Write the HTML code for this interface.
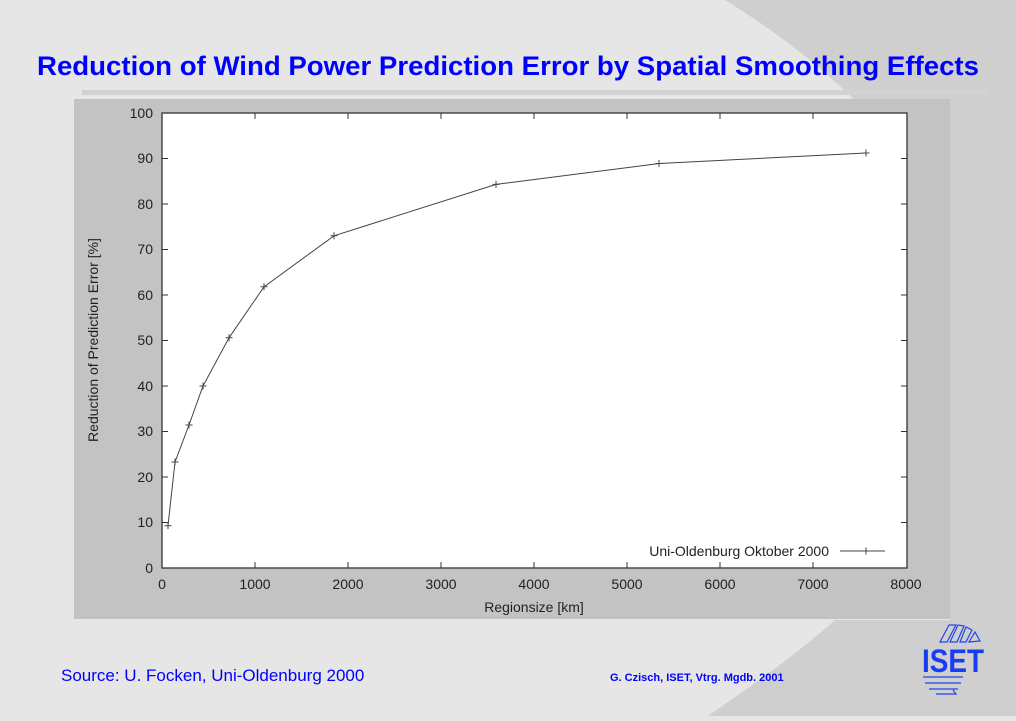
<!DOCTYPE html>
<html><head><meta charset="utf-8"><style>
html,body{margin:0;padding:0;}
body{width:1016px;height:716px;overflow:hidden;background:#e6e6e6;font-family:"Liberation Sans",sans-serif;}
</style></head><body>
<svg width="1016" height="716" viewBox="0 0 1016 716" xmlns="http://www.w3.org/2000/svg" font-family="Liberation Sans, sans-serif">
<rect width="1016" height="716" fill="#e6e6e6"/>
<path d="M725,0 C790,40 835,80 865,110 L1016,110 L1016,0 Z" fill="#cfcfcf"/>
<rect x="950" y="100" width="66" height="616" fill="#cfcfcf"/>
<path d="M835,620 C790,660 745,690 708,716 L1016,716 L1016,620 Z" fill="#cfcfcf"/>
<text x="508" y="75" text-anchor="middle" font-size="27" font-weight="bold" fill="#0000ff" textLength="942" lengthAdjust="spacingAndGlyphs">Reduction of Wind Power Prediction Error by Spatial Smoothing Effects</text>
<rect x="82" y="90" width="905" height="5" fill="#d2d2d2"/>
<rect x="74" y="99" width="876" height="520" fill="#c3c3c3"/>
<rect x="162" y="113" width="745" height="455" fill="#fff" stroke="#333" stroke-width="1.3"/>
<g stroke="#333" stroke-width="1">
<line x1="255" y1="568" x2="255" y2="562"/><line x1="255" y1="113" x2="255" y2="119"/>
<line x1="348" y1="568" x2="348" y2="562"/><line x1="348" y1="113" x2="348" y2="119"/>
<line x1="441" y1="568" x2="441" y2="562"/><line x1="441" y1="113" x2="441" y2="119"/>
<line x1="534" y1="568" x2="534" y2="562"/><line x1="534" y1="113" x2="534" y2="119"/>
<line x1="627" y1="568" x2="627" y2="562"/><line x1="627" y1="113" x2="627" y2="119"/>
<line x1="720" y1="568" x2="720" y2="562"/><line x1="720" y1="113" x2="720" y2="119"/>
<line x1="813" y1="568" x2="813" y2="562"/><line x1="813" y1="113" x2="813" y2="119"/>
<line x1="162" y1="522.5" x2="168" y2="522.5"/><line x1="907" y1="522.5" x2="901" y2="522.5"/>
<line x1="162" y1="477" x2="168" y2="477"/><line x1="907" y1="477" x2="901" y2="477"/>
<line x1="162" y1="431.5" x2="168" y2="431.5"/><line x1="907" y1="431.5" x2="901" y2="431.5"/>
<line x1="162" y1="386" x2="168" y2="386"/><line x1="907" y1="386" x2="901" y2="386"/>
<line x1="162" y1="340.5" x2="168" y2="340.5"/><line x1="907" y1="340.5" x2="901" y2="340.5"/>
<line x1="162" y1="295" x2="168" y2="295"/><line x1="907" y1="295" x2="901" y2="295"/>
<line x1="162" y1="249.5" x2="168" y2="249.5"/><line x1="907" y1="249.5" x2="901" y2="249.5"/>
<line x1="162" y1="204" x2="168" y2="204"/><line x1="907" y1="204" x2="901" y2="204"/>
<line x1="162" y1="158.5" x2="168" y2="158.5"/><line x1="907" y1="158.5" x2="901" y2="158.5"/>
</g>
<g font-size="14" fill="#222" text-anchor="end">
<text x="153" y="573">0</text><text x="153" y="527">10</text><text x="153" y="482">20</text><text x="153" y="436">30</text><text x="153" y="391">40</text><text x="153" y="345">50</text><text x="153" y="300">60</text><text x="153" y="254">70</text><text x="153" y="209">80</text><text x="153" y="163">90</text><text x="153" y="118">100</text>
</g>
<g font-size="14" fill="#222" text-anchor="middle">
<text x="162" y="589">0</text><text x="255" y="589">1000</text><text x="348" y="589">2000</text><text x="441" y="589">3000</text><text x="534" y="589">4000</text><text x="627" y="589">5000</text><text x="720" y="589">6000</text><text x="813" y="589">7000</text><text x="906" y="589">8000</text>
<text x="534" y="612">Regionsize [km]</text>
<text transform="translate(98,340) rotate(-90)">Reduction of Prediction Error [%]</text>
</g>
<text x="829" y="556" font-size="14" fill="#222" text-anchor="end">Uni-Oldenburg Oktober 2000</text>
<g stroke="#444" stroke-width="1" fill="none">
<line x1="840" y1="551" x2="885" y2="551"/>
<polyline points="168,525.7 175,462 189,425 203,386 229,337.8 264,286.8 334,235.8 496,184.4 659,163.5 866,153"/>
<path d="M862.5,551h7M866,547.5v7 M164.5,525.7h7M168,522.2v7 M171.5,462h7M175,458.5v7 M185.5,425h7M189,421.5v7 M199.5,386h7M203,382.5v7 M225.5,337.8h7M229,334.3v7 M260.5,286.8h7M264,283.3v7 M330.5,235.8h7M334,232.3v7 M492.5,184.4h7M496,180.9v7 M655.5,163.5h7M659,160v7 M862.5,153h7M866,149.5v7"/>
</g>
<text x="61" y="681" font-size="17" fill="#0000ff">Source: U. Focken, Uni-Oldenburg 2000</text>
<text x="610" y="681" font-size="11" font-weight="bold" fill="#0000ff">G. Czisch, ISET, Vtrg. Mgdb. 2001</text>
<g stroke="#2244ee" stroke-width="1.2" fill="none">
<path d="M940,642 L949,625 L956,625 L947,642 Z M950,642 L958,625 L964,626 L957,642 Z M960,642 L966,627 L972,630 L966,642 Z M969,642 L975,632 L980,641 Z"/>
<path d="M923,677 L963,677 M925,683 L961,683 M929,689 L958,689 M936,694 L956,694 L953,690"/>
</g>
<text x="953" y="672" font-size="32" font-weight="bold" fill="#1a3cf0" text-anchor="middle" textLength="62" lengthAdjust="spacingAndGlyphs">ISET</text>
</svg>
</body></html>
